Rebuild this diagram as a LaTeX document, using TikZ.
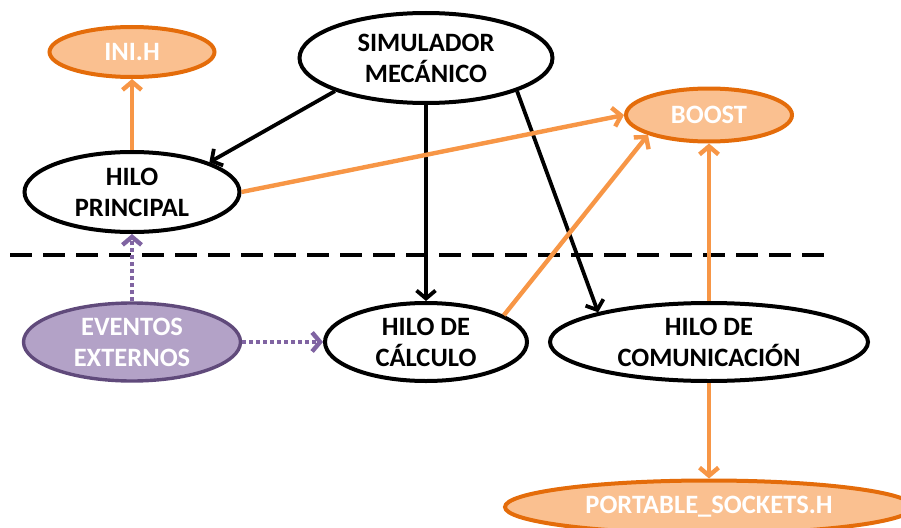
\documentclass[tikz,border=0pt]{standalone}
\usepackage{fontspec}
\setmainfont{Carlito}
\usetikzlibrary{shapes.geometric,arrows.meta}

\definecolor{orfill}{HTML}{FAC090}
\definecolor{ordraw}{HTML}{E46C0A}
\definecolor{orline}{HTML}{F79646}
\definecolor{pufill}{HTML}{B3A2C7}
\definecolor{pudraw}{HTML}{604A7B}
\definecolor{puline}{HTML}{8064A2}

\tikzset{
  bubble/.style={ellipse, draw=black, line width=4pt, fill=white, inner sep=0pt,
    align=center, font=\fontsize{26.5}{31}\selectfont\bfseries},
  libbox/.style={bubble, draw=ordraw, fill=orfill, text=white},
  extbox/.style={bubble, draw=pudraw, line width=3.4pt, fill=pufill, text=white},
  flow/.style={line width=3.8pt, draw=black, -{Straight Barb[length=8pt,width=19pt]}},
  uses/.style={line width=4.4pt, draw=orline, -{Straight Barb[length=8pt,width=19pt]}},
  event/.style={line width=4.4pt, draw=puline, dash pattern=on 4pt off 3pt,
    -{Straight Barb[length=8pt,width=19pt]}},
  divider/.style={line width=4.4pt, draw=black, dash pattern=on 22pt off 11pt}
}

\begin{document}
\begin{tikzpicture}[x=1pt,y=1pt]
  \useasboundingbox (0,0) rectangle (901,-527);
  \clip (0,0) rectangle (901,-527);

  % separator between the main thread area and external inputs
  \coordinate (dl) at (10,-255);
  \coordinate (dr) at (828,-255);
  \draw[divider] (dl) -- (dr);

  % nodes
  \node[libbox, minimum width=165pt, minimum height=50pt] (ini) at (132,-52) {INI.H};
  \node[bubble, minimum width=253pt, minimum height=90pt] (sim) at (426,-58) {SIMULADOR\\MECÁNICO};
  \node[bubble, minimum width=215pt, minimum height=80pt] (hp) at (132,-192) {HILO\\PRINCIPAL};
  \node[libbox, minimum width=166pt, minimum height=53pt] (boost) at (709,-115) {BOOST};
  \node[extbox, minimum width=217pt, minimum height=78pt] (ev) at (132,-342) {EVENTOS\\EXTERNOS};
  \node[bubble, minimum width=202pt, minimum height=78pt] (calc) at (426,-342) {HILO DE\\CÁLCULO};
  \node[bubble, minimum width=318pt, minimum height=78pt] (com) at (709,-342) {HILO DE\\COMUNICACIÓN};
  \node[libbox, minimum width=408pt, minimum height=53pt] (port) at (709,-507) {PORTABLE\_SOCKETS.H};

  % connectors
  \draw[flow] (sim.200) -- (hp.21);
  \draw[flow] (sim.south) -- (calc.north);
  \draw[flow] (sim.-20) -- (com.165);

  \draw[uses] (hp.north) -- (ini.south);
  \draw[uses] (hp.east) -- (boost.west);
  \draw[uses] (calc.19) -- (boost.198);
  \draw[uses] (com.north) -- (boost.south);
  \draw[uses] (com.south) -- (port.north);

  \draw[event] (ev.north) -- (hp.south);
  \draw[event] (ev.east) -- (calc.west);
\end{tikzpicture}
\end{document}
